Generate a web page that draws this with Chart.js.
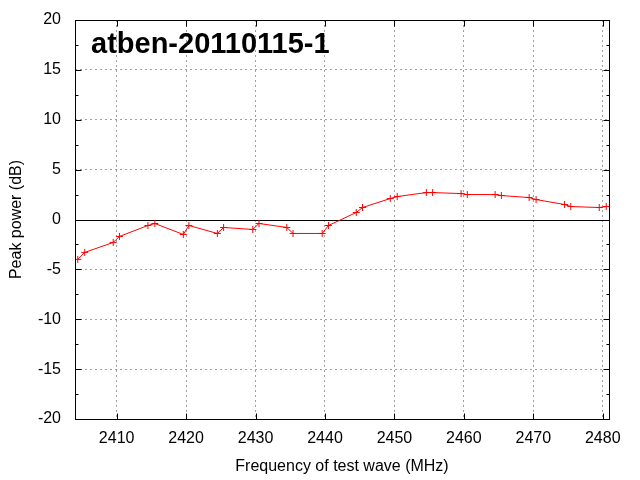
<!DOCTYPE html>
<html>
<head>
<meta charset="utf-8">
<script src="https://cdn.jsdelivr.net/npm/chart.js@4"></script>
<style>
html,body{margin:0;padding:0;background:#fff;}
#wrap{width:640px;height:480px;}
</style>
</head>
<body>
<div id="wrap"><canvas id="c" width="640" height="480"></canvas></div>
<script>
const chartTitle = "atben-20110115-1";
const xLabel = "Frequency of test wave (MHz)";
const yLabel = "Peak power (dB)";
const frequencies = [2404.4, 2405.4, 2409.5, 2410.4, 2414.5, 2415.5, 2419.6, 2420.4, 2424.5, 2425.4,
  2429.6, 2430.5, 2434.5, 2435.4, 2439.6, 2440.5, 2444.5, 2445.4, 2449.4, 2450.4,
  2454.6, 2455.5, 2459.6, 2460.5, 2464.5, 2465.4, 2469.4, 2470.4, 2474.5, 2475.4, 2479.5, 2480.5];
const peakPower = [-4.0, -3.3, -2.3, -1.7, -0.6, -0.4, -1.5, -0.6, -1.4, -0.8,
  -1.0, -0.4, -0.8, -1.4, -1.4, -0.6, 0.7, 1.2, 2.1, 2.3,
  2.7, 2.7, 2.6, 2.5, 2.5, 2.4, 2.2, 2.0, 1.5, 1.3, 1.2, 1.3];
const xRange = [2404.0, 2480.9];
const yRange = [-20, 20];
const xTickStep = 10;
const yTickStep = 5;
const yMinorStep = 2.5;

const points = frequencies.map((f, i) => ({x: f, y: peakPower[i]}));
const FONT = "'Liberation Sans', Arial, sans-serif";

const framePlugin = {
  id: 'frame',
  beforeDatasetsDraw(chart) {
    const {ctx, chartArea: a, scales: {x, y}} = chart;
    ctx.save();
    ctx.strokeStyle = '#000';
    ctx.lineWidth = 1;
    const y0 = Math.round(y.getPixelForValue(0)) + 0.5;
    ctx.beginPath();
    ctx.moveTo(a.left, y0); ctx.lineTo(a.right, y0);
    ctx.stroke();
    ctx.restore();
  },
  afterDatasetsDraw(chart) {
    const {ctx, chartArea: a, scales: {x, y}} = chart;
    ctx.save();
    ctx.strokeStyle = '#000';
    ctx.lineWidth = 1;
    const L = Math.round(a.left) + 0.5, R = Math.round(a.right) + 0.5;
    const T = Math.round(a.top) + 0.5, B = Math.round(a.bottom) + 0.5;
    ctx.beginPath();
    for (let v = yRange[0]; v <= yRange[1] + 1e-9; v += yMinorStep) {
      const major = Math.abs(v / yTickStep - Math.round(v / yTickStep)) < 1e-6;
      const len = major ? 6 : 3;
      const py = Math.round(y.getPixelForValue(v)) + 0.5;
      ctx.moveTo(L, py); ctx.lineTo(L + len, py);
      ctx.moveTo(R, py); ctx.lineTo(R - len, py);
    }
    for (let v = Math.ceil(xRange[0] / xTickStep) * xTickStep; v <= xRange[1]; v += xTickStep) {
      const px = Math.round(x.getPixelForValue(v)) + 0.5;
      ctx.moveTo(px, B); ctx.lineTo(px, B - 6);
      ctx.moveTo(px, T); ctx.lineTo(px, T + 6);
    }
    ctx.stroke();
    ctx.strokeRect(L, T, R - L, B - T);
    ctx.fillStyle = '#000';
    ctx.font = "bold 29px " + FONT;
    ctx.textBaseline = 'alphabetic';
    ctx.textAlign = 'left';
    ctx.fillText(chartTitle, 91, 53);
    ctx.restore();
  }
};

new Chart(document.getElementById('c'), {
  type: 'scatter',
  data: {
    datasets: [{
      data: points,
      showLine: true,
      borderColor: '#ff0000',
      backgroundColor: '#ff0000',
      borderWidth: 1,
      pointStyle: 'cross',
      pointRadius: 3.5,
      pointBorderWidth: 1,
      pointHoverRadius: 3.5,
      tension: 0
    }]
  },
  options: {
    responsive: false,
    animation: false,
    devicePixelRatio: 1,
    layout: {padding: {top: 20, right: 31, left: 0, bottom: 0}},
    plugins: {legend: {display: false}, tooltip: {enabled: false}, title: {display: false}},
    scales: {
      x: {
        type: 'linear',
        min: xRange[0], max: xRange[1],
        afterBuildTicks(scale) {
          const t = [];
          for (let v = Math.ceil(xRange[0] / xTickStep) * xTickStep; v <= xRange[1]; v += xTickStep) t.push({value: v});
          scale.ticks = t;
        },
        afterFit(scale) { scale.height = 61; scale.paddingLeft = 0; scale.paddingRight = 0; },
        ticks: {color: '#000', font: {family: FONT, size: 16}, padding: 10, maxRotation: 0, autoSkip: false,
          callback: v => String(v)},
        grid: {color: '#a0a0a0', lineWidth: 1, drawTicks: false},
        border: {display: false, dash: [2, 3]},
        title: {display: true, text: xLabel, color: '#000', font: {family: FONT, size: 16}, padding: {top: 0, bottom: 4}}
      },
      y: {
        type: 'linear',
        min: yRange[0], max: yRange[1],
        ticks: {stepSize: yTickStep, color: '#000', font: {family: FONT, size: 16}, padding: 14},
        afterFit(scale) { scale.width = 75; scale.paddingTop = 0; scale.paddingBottom = 0; },
        grid: {
          color: ctx => (ctx.tick && (ctx.tick.value === 0 || ctx.tick.value === yRange[0] || ctx.tick.value === yRange[1])) ? 'rgba(0,0,0,0)' : '#a0a0a0',
          lineWidth: 1, drawTicks: false
        },
        border: {display: false, dash: [2, 3]},
        title: {display: true, text: yLabel, color: '#000', font: {family: FONT, size: 16}, padding: {top: 7, bottom: 0}}
      }
    }
  },
  plugins: [framePlugin]
});
</script>
</body>
</html>
